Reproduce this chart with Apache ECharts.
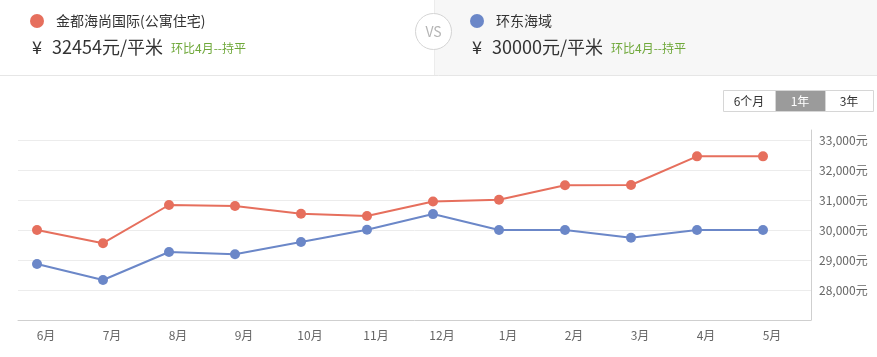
<!DOCTYPE html>
<html>
<head>
<meta charset="utf-8">
<script src="https://cdn.jsdelivr.net/npm/echarts@6/dist/echarts.min.js"></script>
<style>
html,body{margin:0;padding:0;background:#fff;}
#chart{width:877px;height:357px;}
</style>
</head>
<body>
<div id="chart"></div>
<script>
const months = ['6月','7月','8月','9月','10月','11月','12月','1月','2月','3月','4月','5月'];
const nameA = '金都海尚国际(公寓住宅)';
const nameB = '环东海域';
const valuesA = [30000, 29560, 30833, 30800, 30544, 30467, 30950, 31010, 31490, 31500, 32454, 32454];
const valuesB = [28867, 28333, 29267, 29190, 29600, 30010, 30530, 30000, 30000, 29744, 30000, 30000];
const currency = '¥';
const priceA = '32454元/平米';
const priceB = '30000元/平米';
const trendA = '环比4月--持平';
const trendB = '环比4月--持平';
const rangeButtons = ['6个月', '1年', '3年'];
const yMin = 27000, yMax = 33333, yStep = 1000;

const colorA = '#e66f5d';
const colorB = '#6b87c8';
const font = '"Noto Sans CJK SC", "Noto Sans", sans-serif';

const chart = echarts.init(document.getElementById('chart'));

const buttonGraphics = [];
const btnX = [723, 775, 825], btnW = [52, 50, 48];
rangeButtons.forEach((t, i) => {
  const sel = i === 1;
  buttonGraphics.push({
    type: 'rect', left: btnX[i], top: 90, z: 10,
    shape: { width: btnW[i], height: 21 },
    style: { fill: sel ? '#9b9b9b' : '#fff', stroke: '#d6d6d6', lineWidth: 1 }
  });
  buttonGraphics.push({
    type: 'text', x: btnX[i] + btnW[i] / 2, y: 101, z: 11,
    style: { text: t, fill: sel ? '#fff' : '#333', font: '12px ' + font, textAlign: 'center', textVerticalAlign: 'middle' }
  });
});

const option = {
  animation: false,
  textStyle: { fontFamily: font },
  graphic: [
    { type: 'rect', left: 435, top: 0, shape: { width: 442, height: 76 }, style: { fill: '#f7f7f7' }, z: 1 },
    { type: 'line', shape: { x1: 434.5, y1: 0, x2: 434.5, y2: 76 }, style: { stroke: '#ececec', lineWidth: 1 }, z: 2 },
    { type: 'line', shape: { x1: 0, y1: 75.5, x2: 877, y2: 75.5 }, style: { stroke: '#e6e6e6', lineWidth: 1 }, z: 2 },
    { type: 'circle', shape: { cx: 433.5, cy: 31.5, r: 18 }, style: { fill: '#fff', stroke: '#d4d4d4', lineWidth: 1 }, z: 3 },
    { type: 'text', x: 433.5, y: 32, z: 4, style: { text: 'VS', fill: '#b5b5b5', font: '14px ' + font, textAlign: 'center', textVerticalAlign: 'middle' } },

    { type: 'circle', shape: { cx: 37, cy: 21, r: 7 }, style: { fill: colorA }, z: 3 },
    { type: 'text', x: 56, y: 21, z: 4, style: { text: nameA, fill: '#333', font: '14px ' + font, textVerticalAlign: 'middle' } },
    { type: 'text', x: 32, y: 47, z: 4, style: { text: currency, fill: '#333', font: '18px ' + font, textVerticalAlign: 'middle' } },
    { type: 'text', x: 52, y: 47, z: 4, style: { text: priceA, fill: '#333', font: '18px ' + font, textVerticalAlign: 'middle' } },
    { type: 'text', x: 171, y: 48, z: 4, style: { text: trendA, fill: '#6fa83a', font: '12px ' + font, textVerticalAlign: 'middle' } },

    { type: 'circle', shape: { cx: 477, cy: 21, r: 7 }, style: { fill: colorB }, z: 3 },
    { type: 'text', x: 496, y: 21, z: 4, style: { text: nameB, fill: '#333', font: '14px ' + font, textVerticalAlign: 'middle' } },
    { type: 'text', x: 472, y: 47, z: 4, style: { text: currency, fill: '#333', font: '18px ' + font, textVerticalAlign: 'middle' } },
    { type: 'text', x: 492, y: 47, z: 4, style: { text: priceB, fill: '#333', font: '18px ' + font, textVerticalAlign: 'middle' } },
    { type: 'text', x: 611, y: 48, z: 4, style: { text: trendB, fill: '#6fa83a', font: '12px ' + font, textVerticalAlign: 'middle' } }
  ].concat(buttonGraphics),
  grid: [
    { left: 18, right: 66, top: 130, bottom: 37 },
    { left: 37, right: 114, top: 130, bottom: 37 }
  ],
  xAxis: [
    {
      gridIndex: 0, type: 'category', data: months, boundaryGap: false,
      axisLine: { show: true, lineStyle: { color: '#cfcfcf', width: 1 } },
      axisTick: { show: false }, axisLabel: { show: false }, splitLine: { show: false }
    },
    {
      gridIndex: 1, type: 'category', data: months, boundaryGap: false,
      axisLine: { show: false }, axisTick: { show: false },
      axisLabel: { color: '#666', fontSize: 12, margin: 9, padding: [0, 0, 0, 18] },
      splitLine: { show: false }
    }
  ],
  yAxis: [
    {
      gridIndex: 0, type: 'value', position: 'right', min: yMin, max: yMax, interval: yStep,
      axisLine: { show: true, lineStyle: { color: '#cfcfcf', width: 1 } },
      axisTick: { show: false },
      axisLabel: {
        color: '#666', fontSize: 12, margin: 8,
        formatter: v => (v === yMin || v > 33000) ? '' : v.toLocaleString('en-US') + '元'
      },
      splitLine: { show: true, showMinLine: false, showMaxLine: false, lineStyle: { color: '#ececec', width: 1 } }
    },
    {
      gridIndex: 1, type: 'value', min: yMin, max: yMax, interval: yStep,
      show: false, splitLine: { show: false }
    }
  ],
  series: [
    {
      name: nameA, type: 'line', xAxisIndex: 1, yAxisIndex: 1, data: valuesA,
      symbol: 'circle', symbolSize: 10, z: 5,
      lineStyle: { color: colorA, width: 2 }, itemStyle: { color: colorA }
    },
    {
      name: nameB, type: 'line', xAxisIndex: 1, yAxisIndex: 1, data: valuesB,
      symbol: 'circle', symbolSize: 10, z: 5,
      lineStyle: { color: colorB, width: 2 }, itemStyle: { color: colorB }
    }
  ]
};
chart.setOption(option);
</script>
</body>
</html>
